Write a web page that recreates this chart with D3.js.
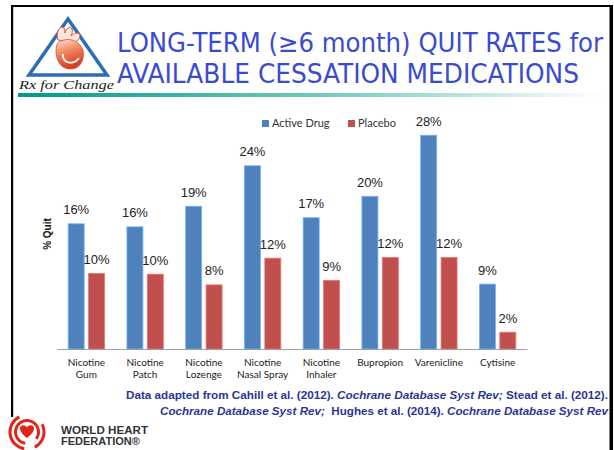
<!DOCTYPE html>
<html>
<head>
<meta charset="utf-8">
<script src="https://cdn.jsdelivr.net/npm/d3@7"></script>
<style>
  html, body { margin: 0; padding: 0; background: #fff; }
  svg { display: block; }
</style>
</head>
<body>
<div class="slide"></div>
<script>
// chart data
var categories = [
  ['Nicotine', 'Gum'],
  ['Nicotine', 'Patch'],
  ['Nicotine', 'Lozenge'],
  ['Nicotine', 'Nasal Spray'],
  ['Nicotine', 'Inhaler'],
  ['Bupropion'],
  ['Varenicline'],
  ['Cytisine']
];
var seriesNames = ['Active Drug', 'Placebo'];
var activeDrug = [16.4, 16.0, 18.7, 24.0, 17.2, 20.0, 28.0, 8.5];
var placebo = [9.9, 9.8, 8.4, 11.9, 9.0, 12.0, 12.0, 2.2];
var seriesColors = ['#4f81bd', '#c0504d'];

var titleLines = ['LONG-TERM (\u22656 month) QUIT RATES for', 'AVAILABLE CESSATION MEDICATIONS'];

function init() {
  var width = 614,
      height = 450,
      baseY = 349,
      topY = 120,
      left = 57,
      right = 527;

  var svg = d3.select('.slide')
    .append('svg')
      .attr('width', width)
      .attr('height', height);

  var defs = svg.append('defs');

  var teal = defs.append('linearGradient').attr('id', 'teal');
  teal.append('stop').attr('offset', '0%').attr('stop-color', '#009a86');
  teal.append('stop').attr('offset', '55%').attr('stop-color', '#7ccbc0');
  teal.append('stop').attr('offset', '100%').attr('stop-color', '#ffffff');

  var heartGrad = defs.append('linearGradient').attr('id', 'heartGrad')
      .attr('x1', 0).attr('y1', 0).attr('x2', 0.3).attr('y2', 1);
  heartGrad.append('stop').attr('offset', '0%').attr('stop-color', '#fbe3d8');
  heartGrad.append('stop').attr('offset', '45%').attr('stop-color', '#f08a62');
  heartGrad.append('stop').attr('offset', '100%').attr('stop-color', '#d63c26');

  // slide frame
  svg.append('rect').attr('x', 11).attr('y', 5).attr('width', 602).attr('height', 2).attr('fill', '#000');
  svg.append('rect').attr('x', 11).attr('y', 5).attr('width', 2.2).attr('height', 445).attr('fill', '#000');
  svg.append('rect').attr('x', 609.5).attr('y', 5).attr('width', 3.5).attr('height', 445).attr('fill', '#000');

  // title
  var title = svg.append('g')
      .style('font-family', '"DejaVu Sans Condensed", "DejaVu Sans", sans-serif')
      .style('font-size', '26px')
      .attr('fill', '#3b4bd0');
  title.selectAll('text').data(titleLines).enter()
    .append('text')
      .attr('x', 117)
      .attr('y', function(d, i) { return 52 + i * 31; })
      .attr('textLength', function(d, i) { return i === 0 ? 486 : 462; })
      .attr('lengthAdjust', 'spacingAndGlyphs')
      .text(function(d) { return d; });

  svg.append('rect')
      .attr('x', 18).attr('y', 93).attr('width', 584).attr('height', 4)
      .attr('fill', 'url(#teal)');

  // Rx for Change logo
  var logo = svg.append('g');
  logo.append('path')
      .attr('d', 'M68,19 L107,75 L29,75 Z')
      .attr('fill', 'none')
      .attr('stroke', '#2a6db5')
      .attr('stroke-width', 3.5)
      .attr('stroke-linejoin', 'miter');
  // vessels
  logo.append('path')
      .attr('d', 'M58,40 C56,34 58,28 62,27 C64,27 65,30 65,33 C66,28 70,26 72,29 C73,31 72,34 71,36 C75,32 80,32 80,36 C80,39 77,41 75,42 Z')
      .attr('fill', '#fbe5dc')
      .attr('stroke', '#d9543a')
      .attr('stroke-width', 1);
  // body
  logo.append('path')
      .attr('d', 'M57,44 C54,55 58,68 69,69 C80,70 85,60 83,50 C80,42 72,38 64,40 C60,41 58,42 57,44 Z')
      .attr('fill', 'url(#heartGrad)')
      .attr('stroke', '#d9543a')
      .attr('stroke-width', 0.8);
  logo.append('path')
      .attr('d', 'M63,54 C62,63 73,66 79,58')
      .attr('fill', 'none')
      .attr('stroke', '#fff')
      .attr('stroke-width', 1.8);
  logo.append('text')
      .attr('x', 19).attr('y', 89)
      .attr('textLength', 95)
      .attr('lengthAdjust', 'spacingAndGlyphs')
      .style('font-family', '"Liberation Serif", serif')
      .style('font-style', 'italic')
      .style('font-size', '12px')
      .attr('fill', '#222')
      .text('Rx for Change');

  // scales
  var x = d3.scaleBand()
      .domain(d3.range(categories.length))
      .range([left, right]);

  var xs = d3.scaleBand()
      .domain(seriesNames)
      .range([0, x.bandwidth()])
      .paddingInner(0.216)
      .paddingOuter(0.548);

  var y = d3.scaleLinear()
      .domain([0, 30])
      .range([baseY, topY]);

  var color = d3.scaleOrdinal().domain(seriesNames).range(seriesColors);

  var rows = categories.map(function(c, i) {
    return [
      { cat: i, series: seriesNames[0], value: activeDrug[i] },
      { cat: i, series: seriesNames[1], value: placebo[i] }
    ];
  });

  var groups = svg.append('g').selectAll('g.cat').data(rows).enter()
    .append('g')
      .attr('class', 'cat')
      .attr('transform', function(d, i) { return 'translate(' + x(i) + ',0)'; });

  groups.selectAll('rect').data(function(d) { return d; }).enter()
    .append('rect')
      .attr('x', function(d) { return xs(d.series); })
      .attr('y', function(d) { return y(d.value); })
      .attr('width', xs.bandwidth())
      .attr('height', function(d) { return baseY - y(d.value); })
      .attr('fill', function(d) { return color(d.series); })
      .attr('stroke', function(d) { return d3.color(color(d.series)).brighter(0.9); })
      .attr('stroke-width', 0.8);

  groups.selectAll('text').data(function(d) { return d; }).enter()
    .append('text')
      .attr('x', function(d) { return xs(d.series) + xs.bandwidth() / 2; })
      .attr('y', function(d) { return y(d.value) - 9.5; })
      .attr('text-anchor', 'middle')
      .style('font-family', '"Liberation Sans", Arial, sans-serif')
      .style('font-size', '13px')
      .attr('fill', '#222')
      .text(function(d) { return Math.round(d.value) + '%'; });

  // baseline axis
  var xAxis = d3.axisBottom(x).tickSize(0).tickFormat('');
  var axisG = svg.append('g')
      .attr('transform', 'translate(0,' + baseY + ')')
      .call(xAxis);
  axisG.select('.domain').attr('stroke', '#a0a0a0').attr('stroke-width', 1.2);

  var catLabels = svg.append('g')
      .style('font-family', 'Lato, "Open Sans", sans-serif')
      .style('font-size', '10px')
      .attr('fill', '#222');
  catLabels.selectAll('text').data(categories).enter()
    .append('text')
      .attr('x', function(d, i) { return x(i) + x.bandwidth() / 2; })
      .attr('y', 366)
      .attr('text-anchor', 'middle')
      .selectAll('tspan').data(function(d) { return d; }).enter()
      .append('tspan')
        .attr('x', function() { return d3.select(this.parentNode).attr('x'); })
        .attr('dy', function(d, i) { return i === 0 ? 0 : 12; })
        .text(function(d) { return d; });

  // y axis title
  svg.append('text')
      .attr('transform', 'translate(51,234) rotate(-90)')
      .attr('text-anchor', 'middle')
      .style('font-family', '"Liberation Sans", Arial, sans-serif')
      .style('font-size', '10px')
      .style('font-weight', 'bold')
      .attr('fill', '#111')
      .text('% Quit');

  // legend
  var legendX = [262, 348];
  var legend = svg.append('g').selectAll('g').data(seriesNames).enter()
    .append('g')
      .attr('transform', function(d, i) { return 'translate(' + legendX[i] + ',120)'; });
  legend.append('rect')
      .attr('width', 7).attr('height', 7)
      .attr('fill', function(d) { return color(d); });
  legend.append('text')
      .attr('x', 10).attr('y', 7)
      .style('font-family', 'Lato, "Open Sans", sans-serif')
      .style('font-size', '11px')
      .attr('fill', '#333')
      .text(function(d) { return d; });

  // source note
  var note = svg.append('g')
      .style('font-family', '"Liberation Sans", Arial, sans-serif')
      .style('font-size', '11.5px')
      .style('font-weight', 'bold')
      .attr('fill', '#2b3596');
  var noteLines = [
    [['Data adapted from Cahill et al. (2012). ', false], ['Cochrane Database Syst Rev;', true], [' Stead et al. (2012).', false]],
    [['Cochrane Database Syst Rev;', true], ['  Hughes et al. (2014). ', false], ['Cochrane Database Syst Rev', true]]
  ];
  var noteWidths = [482, 448];
  note.selectAll('text').data(noteLines).enter()
    .append('text')
      .attr('x', 608)
      .attr('y', function(d, i) { return 399 + i * 16; })
      .attr('text-anchor', 'end')
      .attr('textLength', function(d, i) { return noteWidths[i]; })
      .attr('lengthAdjust', 'spacingAndGlyphs')
      .style('white-space', 'pre')
      .selectAll('tspan').data(function(d) { return d; }).enter()
      .append('tspan')
        .style('font-style', function(d) { return d[1] ? 'italic' : 'normal'; })
        .text(function(d) { return d[0]; });

  // World Heart Federation logo
  var whf = svg.append('g');
  whf.append('rect').attr('x', 0).attr('y', 417).attr('width', 56).attr('height', 33).attr('fill', '#fff');
  var wc = [27, 432];
  var arc = d3.arc();
  whf.append('path')
      .attr('transform', 'translate(' + wc + ')')
      .attr('d', arc({ innerRadius: 10, outerRadius: 13, startAngle: -Math.PI * 0.95, endAngle: Math.PI * 0.7 }))
      .attr('fill', '#e2231a');
  whf.append('path')
      .attr('transform', 'translate(' + wc + ')')
      .attr('d', arc({ innerRadius: 15.5, outerRadius: 18.5, startAngle: Math.PI * 1.05, endAngle: Math.PI * 1.85 }))
      .attr('fill', '#e2231a');
  whf.append('path')
      .attr('transform', 'translate(' + wc + ')')
      .attr('d', arc({ innerRadius: 15.5, outerRadius: 18.5, startAngle: Math.PI * 0.35, endAngle: Math.PI * 0.85 }))
      .attr('fill', '#e2231a');
  whf.append('path')
      .attr('transform', 'translate(' + wc + ')')
      .attr('d', 'M0,6 C-5,2 -7,-1 -7,-3.5 C-7,-7 -2,-8 0,-4.5 C2,-8 7,-7 7,-3.5 C7,-1 5,2 0,6 Z')
      .attr('fill', '#e2231a');

  var whfText = svg.append('g')
      .style('font-family', '"Liberation Sans", Arial, sans-serif')
      .style('font-size', '11px')
      .style('font-weight', 'bold')
      .attr('fill', '#333');
  whfText.append('text').attr('x', 61).attr('y', 434).attr('textLength', 87).attr('lengthAdjust', 'spacingAndGlyphs').text('WORLD HEART');
  whfText.append('text').attr('x', 61).attr('y', 445).text('FEDERATION\u00ae');
}

d3.select(window).on('load', init);
</script>
</body>
</html>
